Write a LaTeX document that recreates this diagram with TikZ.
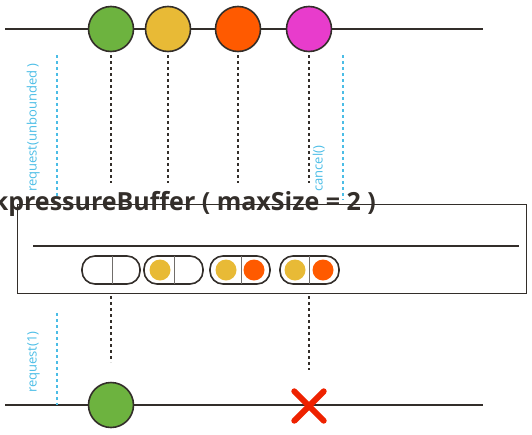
\documentclass[tikz,border=0pt]{standalone}
\usepackage{fontspec}
\setmainfont{Open Sans}
\definecolor{cgreen}{HTML}{6DB33F}
\definecolor{cyellow}{HTML}{E8BA36}
\definecolor{corange}{HTML}{FF5A00}
\definecolor{cmagenta}{HTML}{E83CCC}
\definecolor{cdark}{HTML}{332E2A}
\definecolor{cblue}{HTML}{4BBDE6}
\definecolor{cred}{HTML}{EE2200}
\begin{document}
\begin{tikzpicture}[x=1pt,y=-1pt,
  marble/.style={circle,draw=cdark,line width=1.6pt,minimum size=45pt,inner sep=0pt},
  mini/.style={circle,inner sep=0pt,minimum size=21pt},
  timeline/.style={draw=cdark,line width=2pt},
  dotline/.style={draw=cdark,line width=1.8pt,dash pattern=on 3pt off 3pt},
  bluedot/.style={draw=cblue,line width=1.5pt,dash pattern=on 3pt off 3pt},
  bluetext/.style={text=cblue,font=\fontsize{13}{15}\selectfont,rotate=90,anchor=south west,inner sep=0pt},
  capsule/.style={draw=cdark,line width=1.6pt,rounded corners=13pt},
  divider/.style={draw=cdark!70,line width=0.8pt}]
\useasboundingbox (0,0) rectangle (532,434);
\clip (0,0) rectangle (532,434);
% top timeline
\coordinate (t0) at (5,29);
\coordinate (t1) at (483,29);
\draw[timeline] (t0) -- (t1);
\node[marble,fill=cgreen] (a) at (111,29) {};
\node[marble,fill=cyellow] (b) at (168,29) {};
\node[marble,fill=corange] (c) at (238,29) {};
\node[marble,fill=cmagenta] (d) at (309,29) {};
\coordinate (ae) at (111,183);
\coordinate (be) at (168,183);
\coordinate (ce) at (238,183);
\coordinate (de) at (309,183);
\draw[dotline] (a.south) ++(0,3) -- (ae);
\draw[dotline] (b.south) ++(0,3) -- (be);
\draw[dotline] (c.south) ++(0,3) -- (ce);
\draw[dotline] (d.south) ++(0,3) -- (de);
% blue request/cancel
\coordinate (r0) at (57,55);
\coordinate (r1) at (57,198);
\draw[bluedot] (r0) -- (r1);
\node[bluetext] (rq) at (40,192) {request(unbounded )};
\coordinate (k0) at (343,55);
\coordinate (k1) at (343,200);
\draw[bluedot] (k0) -- (k1);
\node[bluetext] (cn) at (325,192) {cancel()};
% operator box
\node[draw=cdark,line width=1.4pt,minimum width=509pt,minimum height=89pt,anchor=north west,inner sep=0pt] (box) at (17,204) {};
\coordinate (i0) at (33,246);
\coordinate (i1) at (519,246);
\draw[draw=cdark,line width=1.4pt] (i0) -- (i1);
\node[anchor=east,font=\bfseries\fontsize{25}{28}\selectfont,text=cdark,inner sep=0pt] (title) at (376,204) {onBackpressureBuffer ( maxSize = 2 )};
% capsules
\draw[capsule] (82,256) rectangle (140,284);
\draw[divider] (112,256) -- (112,284);
\draw[capsule] (144,256) rectangle (203,284);
\draw[divider] (174,256) -- (174,284);
\node[mini,fill=cyellow] (y2) at (160,270) {};
\draw[capsule] (210,256) rectangle (270,284);
\draw[divider] (241,256) -- (241,284);
\node[mini,fill=cyellow] (y3) at (226,270) {};
\node[mini,fill=corange] (o3) at (254,270) {};
\draw[capsule] (280,256) rectangle (339,284);
\draw[divider] (309,256) -- (309,284);
\node[mini,fill=cyellow] (y4) at (295,270) {};
\node[mini,fill=corange] (o4) at (323,270) {};
% bottom timeline
\coordinate (b0) at (5,405);
\coordinate (b1) at (483,405);
\draw[timeline] (b0) -- (b1);
\node[marble,fill=cgreen] (g) at (111,405) {};
\coordinate (gs) at (111,296);
\coordinate (gt) at (111,362);
\draw[dotline] (gs) -- (gt);
\coordinate (xs) at (309,296);
\coordinate (xt) at (309,370);
\draw[dotline] (xs) -- (xt);
\node[inner sep=0pt,minimum size=29pt] (x) at (309,406) {};
\draw[cred,line width=6pt,line cap=round] (x.north west) -- (x.south east);
\draw[cred,line width=6pt,line cap=round] (x.north east) -- (x.south west);
\coordinate (q0) at (57,313);
\coordinate (q1) at (57,405);
\draw[bluedot] (q0) -- (q1);
\node[bluetext] (rq1) at (40,393) {request(1)};
\end{tikzpicture}
\end{document}
